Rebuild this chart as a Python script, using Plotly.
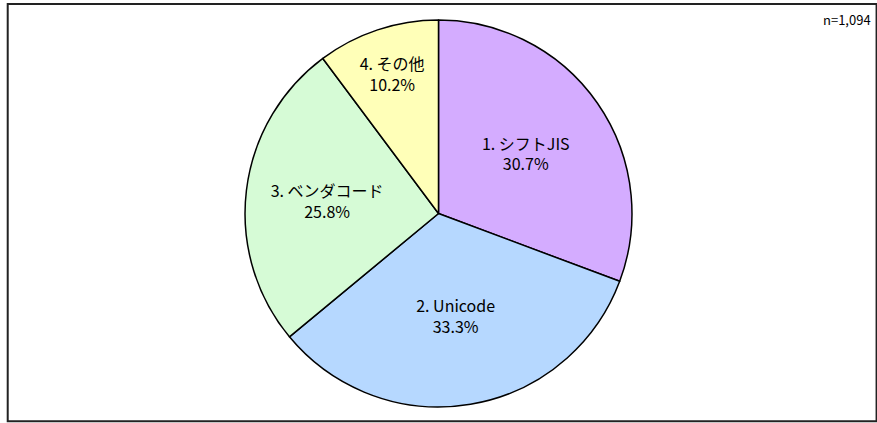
import plotly.graph_objects as go

# 文字コードの利用状況
labels = ["1. シフトJIS", "2. Unicode", "3. ベンダコード", "4. その他"]
values = [30.7, 33.3, 25.8, 10.2]
colors = ["#D4ACFF", "#B6D8FF", "#D6FBD6", "#FFFFB8"]
n_text = "n=1,094"

fig = go.Figure()
fig.add_trace(go.Pie(
    labels=labels,
    values=values,
    sort=False,
    direction="clockwise",
    rotation=0,
    marker=dict(colors=colors, line=dict(color="#000000", width=1.5)),
    texttemplate="%{label}<br>%{percent:.1%}",
    textposition="inside",
    insidetextorientation="horizontal",
    textfont=dict(family="Noto Sans CJK JP", size=16, color="#000000"),
    domain=dict(x=[0.2794, 0.7206], y=[0.0378, 0.9527]),
    showlegend=False,
    hoverinfo="label+percent",
))

fig.add_annotation(
    text=n_text, xref="paper", yref="paper", x=0.996, y=0.953,
    xanchor="right", yanchor="middle", showarrow=False,
    font=dict(family="Noto Sans CJK JP", size=13, color="#000000"),
)

# 外枠
fig.add_shape(
    type="rect", xref="paper", yref="paper",
    x0=0.0088, x1=0.9995, y0=0.004, y1=0.9905,
    line=dict(color="#222222", width=2),
)

fig.update_layout(
    width=877, height=423,
    margin=dict(l=0, r=0, t=0, b=0),
    paper_bgcolor="#FFFFFF",
    plot_bgcolor="#FFFFFF",
    font=dict(family="Noto Sans CJK JP"),
)

fig.write_html(
    "out.html",
    config={"displayModeBar": False},
    post_script="document.body.style.margin='0';document.body.style.overflow='hidden';",
)
